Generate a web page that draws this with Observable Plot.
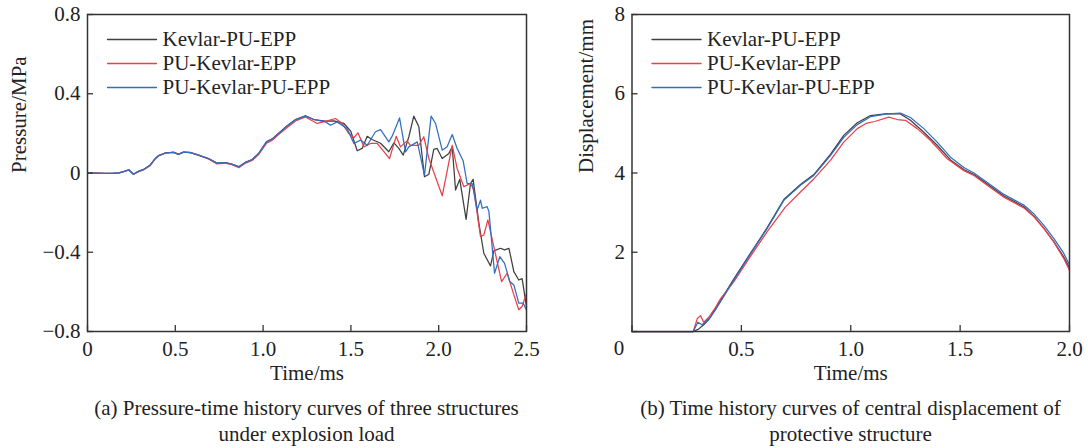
<!DOCTYPE html>
<html>
<head>
<meta charset="utf-8">
<script src="https://cdn.jsdelivr.net/npm/d3@7"></script>
<script src="https://cdn.jsdelivr.net/npm/@observablehq/plot@0.6"></script>
<style>
  html, body { margin: 0; padding: 0; background: #fff; }
  #wrap { display: flex; flex-direction: row; width: 1088px; }
  .panel { width: 544px; }
  .panel svg { display: block; }
  .caption {
    font-family: "Liberation Serif", "Times New Roman", serif;
    font-size: 21px; line-height: 26px; color: #222;
    text-align: center; white-space: nowrap;
    padding-left: 69px; width: 475px; box-sizing: content-box;
  }
</style>
</head>
<body>
<div id="wrap">
  <div class="panel" id="panelA"></div>
  <div class="panel" id="panelB"></div>
</div>
<script>
// ---- Series names ----
const seriesNames = ["Kevlar-PU-EPP", "PU-Kevlar-EPP", "PU-Kevlar-PU-EPP"];

// ---- (a) Pressure (MPa) vs time (ms), [t, p] ----
const pressureKevlarPuEpp = [
  [0,0],[0.05,0],[0.1,-0.002],[0.14,-0.002],[0.18,0.001],[0.21,0.008],[0.235,0.016],[0.262,-0.006],
  [0.29,0.008],[0.32,0.018],[0.357,0.04],[0.385,0.072],[0.405,0.088],[0.442,0.1],[0.49,0.104],
  [0.518,0.094],[0.547,0.105],[0.585,0.103],[0.632,0.09],[0.689,0.073],[0.737,0.05],[0.784,0.052],
  [0.822,0.045],[0.862,0.031],[0.9,0.054],[0.938,0.068],[0.976,0.1],[1.019,0.157],[1.052,0.172],
  [1.09,0.202],[1.137,0.238],[1.185,0.27],[1.241,0.289],[1.289,0.27],[1.355,0.262],[1.403,0.263],
  [1.46,0.25],[1.498,0.213],[1.536,0.112],[1.564,0.124],[1.593,0.185],[1.621,0.169],[1.669,0.15],
  [1.716,0.107],[1.745,0.152],[1.773,0.124],[1.798,0.09],[1.83,0.183],[1.858,0.287],[1.887,0.233],
  [1.919,-0.019],[1.944,-0.006],[1.972,0.119],[1.991,0.124],[2.02,0.073],[2.058,0.099],[2.077,0.132],
  [2.096,-0.086],[2.12,-0.032],[2.156,-0.234],[2.181,-0.053],[2.196,-0.032],[2.229,-0.254],
  [2.257,-0.405],[2.295,-0.469],[2.314,-0.393],[2.352,-0.38],[2.375,-0.388],[2.4,-0.38],
  [2.428,-0.498],[2.456,-0.54],[2.475,-0.533],[2.5,-0.674]
];
const pressurePuKevlarEpp = [
  [0,0],[0.05,0],[0.1,-0.002],[0.14,-0.002],[0.18,0.001],[0.21,0.008],[0.235,0.015],[0.262,-0.006],
  [0.29,0.007],[0.32,0.016],[0.357,0.037],[0.385,0.07],[0.405,0.086],[0.442,0.1],[0.49,0.106],
  [0.518,0.096],[0.547,0.106],[0.585,0.104],[0.632,0.09],[0.689,0.071],[0.737,0.046],[0.784,0.05],
  [0.822,0.042],[0.862,0.027],[0.9,0.05],[0.938,0.063],[0.976,0.095],[1.019,0.15],[1.052,0.165],
  [1.09,0.195],[1.137,0.23],[1.185,0.263],[1.241,0.283],[1.308,0.25],[1.365,0.263],[1.412,0.275],
  [1.45,0.25],[1.488,0.199],[1.517,0.178],[1.54,0.203],[1.574,0.132],[1.612,0.149],[1.65,0.149],
  [1.72,0.073],[1.758,0.185],[1.782,0.132],[1.82,0.162],[1.839,0.14],[1.887,0.14],[1.915,0.183],
  [1.944,0.073],[2.02,-0.115],[2.077,0.14],[2.105,0.023],[2.143,-0.069],[2.181,-0.053],[2.2,-0.086],
  [2.238,-0.321],[2.257,-0.313],[2.28,-0.237],[2.314,-0.372],[2.358,-0.548],[2.39,-0.506],
  [2.428,-0.615],[2.456,-0.69],[2.475,-0.674],[2.5,-0.607]
];
const pressurePuKevlarPuEpp = [
  [0,0],[0.05,0],[0.1,-0.002],[0.14,-0.002],[0.18,0.001],[0.21,0.008],[0.235,0.016],[0.262,-0.006],
  [0.29,0.008],[0.32,0.018],[0.357,0.04],[0.385,0.072],[0.405,0.088],[0.442,0.101],[0.49,0.104],
  [0.518,0.094],[0.547,0.105],[0.585,0.103],[0.632,0.09],[0.689,0.073],[0.737,0.05],[0.784,0.052],
  [0.822,0.045],[0.862,0.032],[0.9,0.054],[0.938,0.068],[0.976,0.1],[1.019,0.157],[1.052,0.171],
  [1.09,0.2],[1.137,0.237],[1.185,0.27],[1.241,0.287],[1.289,0.27],[1.355,0.258],[1.384,0.241],
  [1.422,0.258],[1.479,0.224],[1.517,0.149],[1.555,0.166],[1.593,0.14],[1.64,0.208],[1.669,0.219],
  [1.716,0.157],[1.735,0.186],[1.777,0.278],[1.811,0.107],[1.83,0.132],[1.878,0.157],[1.919,-0.011],
  [1.957,0.287],[1.982,0.25],[2.02,0.115],[2.048,0.132],[2.077,0.194],[2.105,0.124],[2.139,0.062],
  [2.162,-0.053],[2.191,-0.053],[2.219,-0.187],[2.238,-0.137],[2.248,-0.178],[2.276,-0.17],
  [2.286,-0.195],[2.318,-0.506],[2.348,-0.422],[2.375,-0.456],[2.405,-0.548],[2.428,-0.565],
  [2.456,-0.657],[2.481,-0.657],[2.5,-0.691]
];

// ---- (b) Central displacement (mm) vs time (ms), [t, d] ----
const dispKevlarPuEpp = [
  [0,0],[0.28,0],[0.304,0.06],[0.328,0.17],[0.351,0.3],[0.382,0.58],[0.465,1.32],[0.542,1.98],
  [0.618,2.62],[0.694,3.33],[0.77,3.71],[0.831,3.96],[0.907,4.47],[0.968,4.95],[1.03,5.27],
  [1.09,5.45],[1.167,5.5],[1.227,5.49],[1.273,5.33],[1.334,5.03],[1.395,4.7],[1.456,4.33],
  [1.517,4.09],[1.563,3.96],[1.624,3.72],[1.7,3.42],[1.791,3.15],[1.837,2.91],[1.883,2.6],
  [1.928,2.27],[1.974,1.88],[2.0,1.6]
];
const dispPuKevlarEpp = [
  [0,0],[0.28,0],[0.298,0.32],[0.313,0.4],[0.328,0.235],[0.351,0.36],[0.382,0.61],[0.405,0.83],
  [0.465,1.25],[0.542,1.9],[0.618,2.52],[0.701,3.14],[0.77,3.52],[0.831,3.85],[0.907,4.32],
  [0.968,4.78],[1.03,5.12],[1.07,5.25],[1.11,5.3],[1.174,5.41],[1.212,5.35],[1.25,5.33],
  [1.304,5.12],[1.365,4.82],[1.441,4.36],[1.517,4.06],[1.563,3.94],[1.624,3.69],[1.7,3.39],
  [1.791,3.12],[1.837,2.9],[1.883,2.6],[1.928,2.26],[1.974,1.84],[2.0,1.54]
];
const dispPuKevlarPuEpp = [
  [0,0],[0.28,0],[0.301,0.235],[0.32,0.17],[0.334,0.235],[0.359,0.36],[0.382,0.55],[0.465,1.29],
  [0.542,1.96],[0.618,2.6],[0.694,3.31],[0.77,3.69],[0.831,3.94],[0.907,4.44],[0.968,4.9],
  [1.03,5.22],[1.09,5.42],[1.167,5.49],[1.227,5.51],[1.273,5.4],[1.334,5.12],[1.395,4.78],
  [1.456,4.4],[1.517,4.14],[1.563,4.0],[1.624,3.76],[1.7,3.46],[1.791,3.19],[1.837,2.97],
  [1.883,2.68],[1.928,2.35],[1.974,1.97],[2.0,1.68]
];

// ---- Ticks ----
const xTicksA = [0, 0.5, 1, 1.5, 2, 2.5];
const xTickLabelsA = ["0", "0.5", "1.0", "1.5", "2.0", "2.5"];
const yTicksA = [-0.8, -0.4, 0, 0.4, 0.8];
const yTickLabelsA = ["\u22120.8", "\u22120.4", "0", "0.4", "0.8"];
const xTicksB = [0, 0.5, 1, 1.5, 2];
const xTickLabelsB = ["", "0.5", "1.0", "1.5", "2.0"];
const yTicksB = [0, 2, 4, 6, 8];
const yTickLabelsB = ["", "2", "4", "6", "8"];

// ---- Styling ----
const colors = ["#3f3f3f", "#e8414a", "#2f6ec2"];
const font = "'Liberation Serif', 'Times New Roman', serif";
const textColor = "#222";
const W = 544, H = 395;

function toRows(pairs) { return pairs.map(([t, v]) => ({t, v})); }

function panel({series, xDomain, yDomain, xTicks, xLabels, yTicks, yLabels, yTitle, yTitleDx, margins, originLabel}) {
  const {top, right, bottom, left} = margins;
  const plotW = W - left - right, plotH = H - top - bottom;
  // legend placement in pixel offsets from the frame's top-left, mapped to data space
  const px2x = (px) => xDomain[0] + px / plotW * (xDomain[1] - xDomain[0]);
  const py2y = (py) => yDomain[1] - py / plotH * (yDomain[1] - yDomain[0]);
  const legendRows = [25, 49, 73];
  const legendMarks = [];
  seriesNames.forEach((name, i) => {
    const y = py2y(legendRows[i]);
    legendMarks.push(Plot.line([[px2x(20), y], [px2x(69), y]], {stroke: colors[i], strokeWidth: 1.3}));
    legendMarks.push(Plot.text([name], {x: px2x(75), y, text: d => d, textAnchor: "start", fill: textColor}));
  });
  const fmt = (labels, ticks) => (d) => labels[ticks.indexOf(d)];
  const marks = [
    ...series.map((s, i) => Plot.line(toRows(s), {x: "t", y: "v", stroke: colors[i], strokeWidth: 1.25})),
    Plot.frame({stroke: "#333", strokeWidth: 1.5}),
    Plot.tickX(xTicks, {x: d => d, stroke: "#333", strokeWidth: 1.3, insetTop: plotH - 6}),
    Plot.tickY(yTicks, {y: d => d, stroke: "#333", strokeWidth: 1.3, insetRight: plotW - 6}),
    Plot.axisX(xTicks, {tickSize: 0, tickPadding: 10, tickFormat: fmt(xLabels, xTicks), label: null, fill: textColor}),
    Plot.axisY(yTicks, {tickSize: 0, tickPadding: 7, tickFormat: fmt(yLabels, yTicks), label: null, fill: textColor}),
    Plot.text(["Time/ms"], {frameAnchor: "bottom", dy: 48, text: d => d, fill: textColor}),
    Plot.text([yTitle], {frameAnchor: "left", dx: yTitleDx, rotate: -90, text: d => d, fill: textColor}),
    ...legendMarks
  ];
  if (originLabel) {
    marks.push(Plot.text([originLabel], {x: xDomain[0], y: yDomain[0], text: d => d, dx: -13, dy: 17, fill: textColor}));
  }
  return Plot.plot({
    width: W, height: H,
    marginTop: top, marginRight: right, marginBottom: bottom, marginLeft: left,
    x: {domain: xDomain},
    y: {domain: yDomain},
    style: {fontFamily: font, fontSize: "21px", color: textColor, background: "white"},
    marks
  });
}

const panelA = panel({
  series: [pressureKevlarPuEpp, pressurePuKevlarEpp, pressurePuKevlarPuEpp],
  xDomain: [0, 2.5], yDomain: [-0.8, 0.8],
  xTicks: xTicksA, xLabels: xTickLabelsA, yTicks: yTicksA, yLabels: yTickLabelsA,
  yTitle: "Pressure/MPa", yTitleDx: -68,
  margins: {top: 14, right: 18, bottom: 64, left: 87}
});
const panelB = panel({
  series: [dispKevlarPuEpp, dispPuKevlarEpp, dispPuKevlarPuEpp],
  xDomain: [0, 2], yDomain: [0, 8],
  xTicks: xTicksB, xLabels: xTickLabelsB, yTicks: yTicksB, yLabels: yTickLabelsB,
  yTitle: "Displacement/mm", yTitleDx: -46,
  margins: {top: 14, right: 19, bottom: 64, left: 87.5},
  originLabel: "0"
});

function mount(id, svg, lines) {
  const el = document.getElementById(id);
  el.appendChild(svg);
  const cap = document.createElement("div");
  cap.className = "caption";
  cap.innerHTML = lines.join("<br>");
  el.appendChild(cap);
}
mount("panelA", panelA, ["(a) Pressure-time history curves of three structures", "under explosion load"]);
mount("panelB", panelB, ["(b) Time history curves of central displacement of", "protective structure"]);
</script>
</body>
</html>
